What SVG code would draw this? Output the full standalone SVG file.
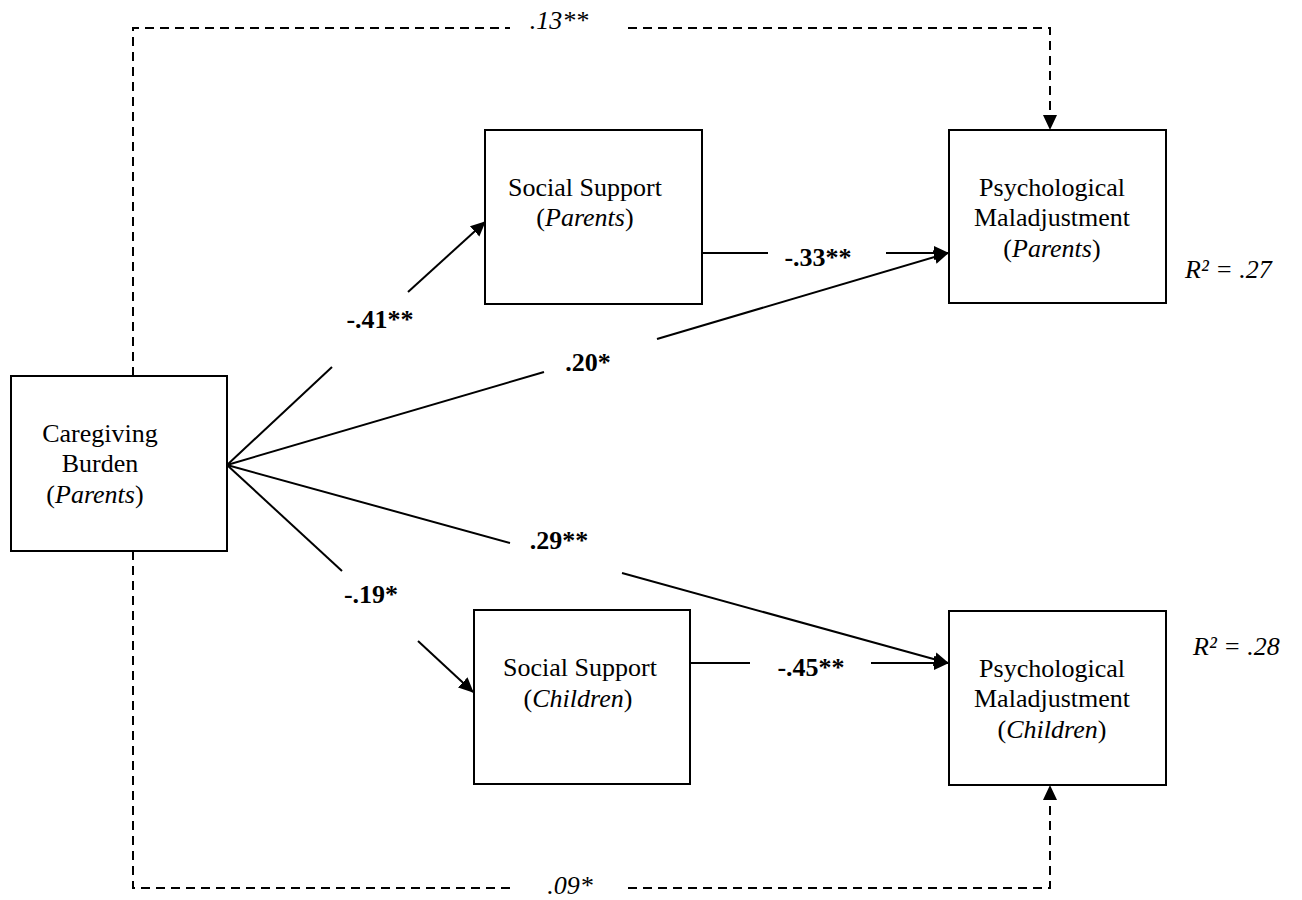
<svg xmlns="http://www.w3.org/2000/svg" width="1302" height="900" viewBox="0 0 1302 900">
<style>
text{font-family:"Liberation Serif","Times New Roman",serif;font-size:26px;fill:#000}
.c{text-anchor:middle}
.b{font-weight:bold}
.i{font-style:italic}
.box{fill:#fff;stroke:#000;stroke-width:2}
.ln{fill:none;stroke:#000;stroke-width:2}
.ds{fill:none;stroke:#000;stroke-width:2;stroke-dasharray:9 6}
</style>
<defs>
<marker id="ah" markerUnits="userSpaceOnUse" markerWidth="16" markerHeight="16" viewBox="0 -8 16 16" refX="14" refY="0" orient="auto">
<path d="M0,-7 L15,0 L0,7 z" fill="#000"/>
</marker>
</defs>
<g id="connectors">
<path class="ds" d="M133,376 V28 H510 M628,28 H1050 V129" marker-end="url(#ah)"/>
<path class="ds" d="M133,551 V888 H512 M628,888 H1050 V786" marker-end="url(#ah)"/>
<line class="ln" x1="227" y1="465" x2="332" y2="367"/>
<line class="ln" x1="408" y1="292" x2="485" y2="222" marker-end="url(#ah)"/>
<line class="ln" x1="227" y1="465" x2="544" y2="372"/>
<line class="ln" x1="657" y1="339" x2="948" y2="253" marker-end="url(#ah)"/>
<line class="ln" x1="702" y1="253" x2="768" y2="253"/>
<line class="ln" x1="886" y1="253" x2="948" y2="253" marker-end="url(#ah)"/>
<line class="ln" x1="227" y1="465" x2="510" y2="543"/>
<line class="ln" x1="622" y1="573" x2="948" y2="663" marker-end="url(#ah)"/>
<line class="ln" x1="227" y1="465" x2="342" y2="571"/>
<line class="ln" x1="418" y1="641" x2="473" y2="692" marker-end="url(#ah)"/>
<line class="ln" x1="690" y1="663" x2="750" y2="663"/>
<line class="ln" x1="871" y1="663" x2="948" y2="663" marker-end="url(#ah)"/>
<text class="c i" x="559" y="29">.13**</text>
<text class="c i" x="570" y="894">.09*</text>
<text class="c b" x="380" y="328">-.41**</text>
<text class="c b" x="588" y="371">.20*</text>
<text class="c b" x="818" y="266">-.33**</text>
<text class="c b" x="559" y="549">.29**</text>
<text class="c b" x="371" y="603">-.19*</text>
<text class="c b" x="811" y="676">-.45**</text>
</g>
<g id="caregiving">
<rect class="box" x="11" y="376" width="216" height="175"/>
<text class="c" x="100" y="442">Caregiving</text>
<text class="c" x="100" y="472">Burden</text>
<text class="c" x="95" y="503">(<tspan class="i">Parents</tspan>)</text>
</g>
<g id="ss-parents">
<rect class="box" x="485" y="130" width="217" height="174"/>
<text class="c" x="585" y="196">Social Support</text>
<text class="c" x="585" y="226">(<tspan class="i">Parents</tspan>)</text>
</g>
<g id="pm-parents">
<rect class="box" x="949" y="130" width="217" height="173"/>
<text class="c" x="1052" y="196">Psychological</text>
<text class="c" x="1052" y="226">Maladjustment</text>
<text class="c" x="1052" y="257">(<tspan class="i">Parents</tspan>)</text>
<text class="i" x="1185" y="278">R² = .27</text>
</g>
<g id="ss-children">
<rect class="box" x="474" y="610" width="216" height="174"/>
<text class="c" x="580" y="676">Social Support</text>
<text class="c" x="578" y="707">(<tspan class="i">Children</tspan>)</text>
</g>
<g id="pm-children">
<rect class="box" x="949" y="611" width="217" height="174"/>
<text class="c" x="1052" y="677">Psychological</text>
<text class="c" x="1052" y="707">Maladjustment</text>
<text class="c" x="1052" y="738">(<tspan class="i">Children</tspan>)</text>
<text class="i" x="1193" y="655">R² = .28</text>
</g>
</svg>
